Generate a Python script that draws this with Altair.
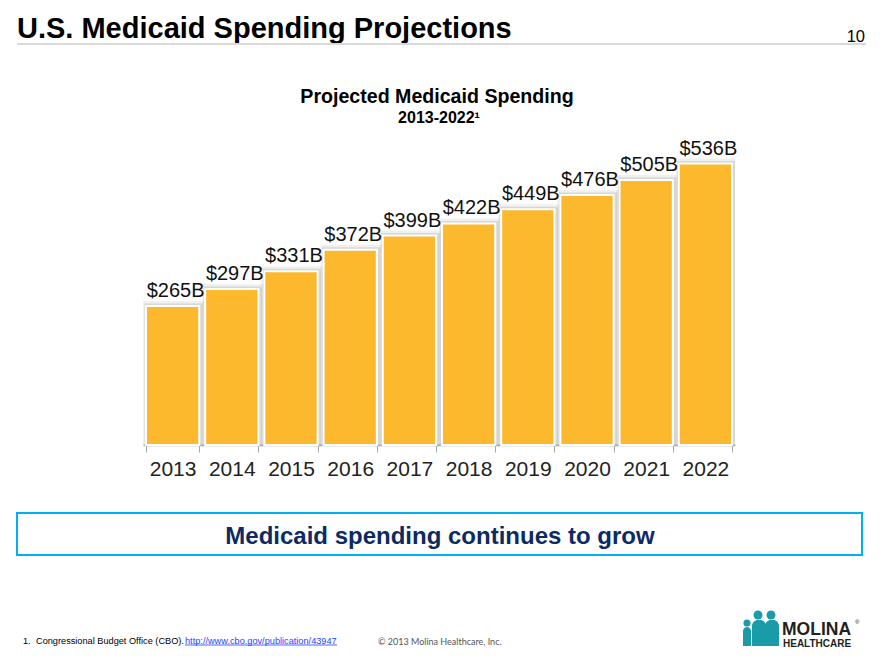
import altair as alt
import pandas as pd

# ---- data ----
years = ["2013", "2014", "2015", "2016", "2017", "2018", "2019", "2020", "2021", "2022"]
spending = [265, 297, 331, 372, 399, 422, 449, 476, 505, 536]  # $ billions
value_labels = [f"${v}B" for v in spending]

main_title = "U.S. Medicaid Spending Projections"
page_number = "10"
chart_title = "Projected Medicaid Spending"
chart_subtitle = "2013-2022\u00b9"
callout = "Medicaid spending continues to grow"
footnote_num = "1."
footnote = "Congressional Budget Office (CBO)."
footnote_link = "http://www.cbo.gov/publication/43947"
copyright_text = "\u00a9 2013 Molina Healthcare, Inc."

df = pd.DataFrame({"year": years, "spend": spending, "label": value_labels})

# ---- layout ----
W, H = 592, 315
X0, Y0 = 143, 130  # screen position of the plot area's top-left corner
PAD = {"left": X0 - 8, "top": Y0 - 8, "right": 137, "bottom": 207}

BAR = "#FDB92E"
TEAL = "#1A9CA8"
SANS = "Liberation Sans, Arial, sans-serif"


def one():
    return alt.Chart(pd.DataFrame({"t": [""]}))


def txt(s, sx, sy, size, **kw):
    return alt.Chart(pd.DataFrame({"t": [s]})).mark_text(
        fontSize=size, baseline="alphabetic", **kw).encode(
        x=alt.value(sx - X0), y=alt.value(sy - Y0), text="t:N")


def rect(sx1, sy1, sx2, sy2, **kw):
    return one().mark_rect(**kw).encode(
        x=alt.value(sx1 - X0), x2=alt.value(sx2 - X0),
        y=alt.value(sy1 - Y0), y2=alt.value(sy2 - Y0))


def dot(sx, sy, size, color):
    return one().mark_point(filled=True, shape="circle", size=size, color=color, opacity=1).encode(
        x=alt.value(sx - X0), y=alt.value(sy - Y0))


base = alt.Chart(df)
xenc = alt.X("year:N", sort=years,
             scale=alt.Scale(paddingInner=0.1, paddingOuter=0.05),
             axis=alt.Axis(title=None, labelAngle=0, labelFontSize=21, labelColor="#222222",
                           labelFont=SANS, domainColor="#A6A6A6", domainWidth=1.5,
                           tickColor="#A6A6A6", tickSize=7, tickBand="extent",
                           labelPadding=6))
yenc = alt.Y("spend:Q", scale=alt.Scale(domain=[0, 600]), axis=None)

shadow1 = base.mark_bar(fill="#000000", fillOpacity=0, stroke="#000000", strokeOpacity=0.06,
                        strokeWidth=10, xOffset=2, clip=True).encode(x=xenc, y=yenc)
shadow2 = base.mark_bar(fill="#000000", fillOpacity=0, stroke="#000000", strokeOpacity=0.10,
                        strokeWidth=5, xOffset=1, clip=True).encode(x=xenc, y=yenc)
bars = base.mark_bar(color=BAR, stroke="white", strokeWidth=2).encode(x=xenc, y=yenc)
labels = base.mark_text(fontSize=20, font=SANS, color="#111111", dy=-9, dx=3,
                        baseline="alphabetic").encode(x=xenc, y=yenc, text="label:N")

layers = [
    shadow1, shadow2, bars, labels,
    # header
    txt(main_title, 17, 38, 29, font=SANS, fontWeight="bold", align="left", color="#000000"),
    txt(page_number, 865, 41.5, 16.5, font=SANS, align="right", color="#000000"),
    one().mark_rule(color="#D9D9D9", strokeWidth=2).encode(
        x=alt.value(17 - X0), x2=alt.value(866 - X0), y=alt.value(44 - Y0)),
    # chart titles
    txt(chart_title, 437, 103, 19.6, font=SANS, fontWeight="bold", color="#000000"),
    txt(chart_subtitle, 439, 123, 16, font=SANS, fontWeight="bold", color="#000000"),
    # callout box
    rect(17, 513, 862, 555, fill="white", stroke="#00B0F0", strokeWidth=2),
    txt(callout, 440, 544, 24, font=SANS, fontWeight="bold", color="#0D2A63"),
    # footer
    txt(footnote_num, 23, 643.5, 9.2, font=SANS, align="left", color="#000000"),
    txt(footnote, 36, 643.5, 9.2, font=SANS, align="left", color="#000000"),
    txt(footnote_link, 185, 643.5, 9.2, font=SANS, align="left", color="#1F3FFF"),
    one().mark_rule(color="#1F3FFF", strokeWidth=0.8).encode(
        x=alt.value(185 - X0), x2=alt.value(337 - X0), y=alt.value(645 - Y0)),
    txt(copyright_text, 378, 645, 9, font="Lato, Open Sans, sans-serif", align="left", color="#555555"),
    # logo
    rect(743, 627, 751, 646, fill=TEAL, cornerRadiusTopLeft=4, cornerRadiusTopRight=4),
    rect(752, 620, 766, 646, fill=TEAL, cornerRadiusTopLeft=6, cornerRadiusTopRight=6),
    rect(765, 620, 779, 646, fill=TEAL, cornerRadiusTopLeft=6, cornerRadiusTopRight=6),
    dot(747, 623, 50, TEAL),
    dot(758, 615, 80, TEAL),
    dot(771, 615, 80, TEAL),
    txt("MOLINA", 782, 634.5, 17.5, font=SANS, fontWeight="bold", align="left", color="#231F20"),
    txt("\u00ae", 855, 624, 6, font=SANS, align="left", color="#231F20"),
    txt("HEALTHCARE", 783, 647, 10, font=SANS, fontWeight="bold", align="left", color="#231F20"),
]

chart = alt.layer(*layers).properties(
    width=W, height=H, padding=PAD,
    autosize=alt.AutoSizeParams(type="none"),
    background="white",
).configure_view(stroke=None)

chart.save("out.html", embed_options={"renderer": "svg", "actions": False})
